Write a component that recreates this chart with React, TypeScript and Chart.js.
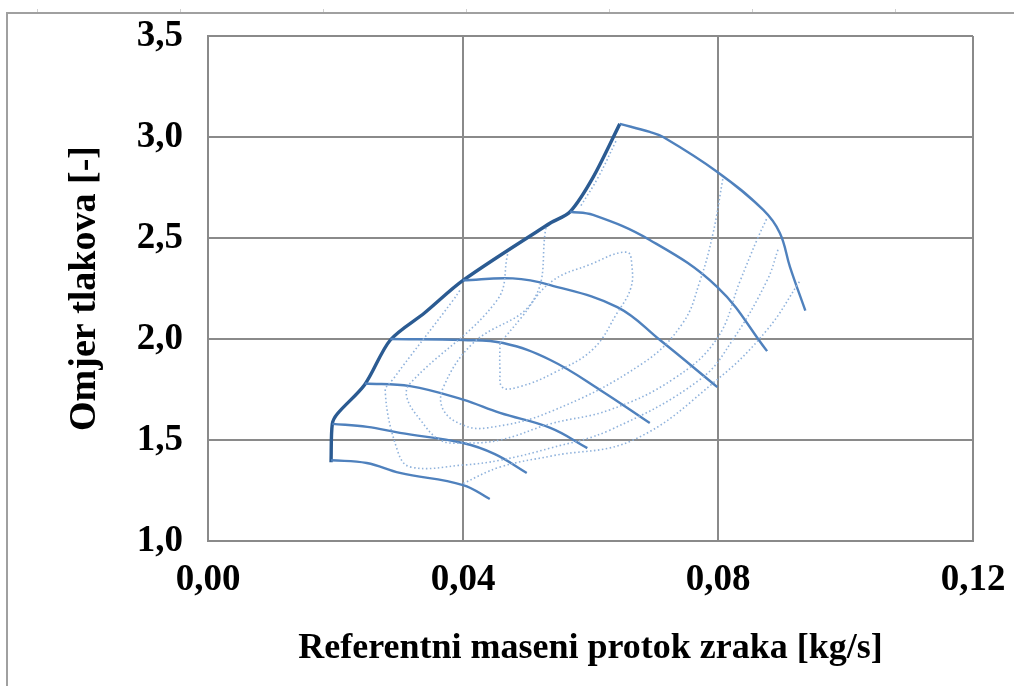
import React, { useEffect, useRef } from "react";
import { Chart, registerables } from "chart.js";

Chart.register(...registerables);

// Axis ticks
const xTicks = [0, 0.04, 0.08, 0.12];
const xTickLabels = ["0,00", "0,04", "0,08", "0,12"];
const yTicks = [1.0, 1.5, 2.0, 2.5, 3.0, 3.5];
const yTickLabels = ["1,0", "1,5", "2,0", "2,5", "3,0", "3,5"];

const xTitle = "Referentni maseni protok zraka [kg/s]";
const yTitle = "Omjer tlakova [-]";

// Surge line [mass flow, pressure ratio]
const surgeLine = [
  [0.0193, 1.39], [0.0195, 1.58], [0.0203, 1.63], [0.0246, 1.775], [0.0286, 1.995],
  [0.0340, 2.13], [0.0400, 2.29], [0.0537, 2.574], [0.0568, 2.63], [0.0604, 2.80], [0.0646, 3.065],
];

// Speed lines
const speed1 = [[0.0193, 1.40], [0.0249, 1.386], [0.0301, 1.337], [0.0400, 1.277], [0.0442, 1.208]];
const speed2 = [[0.0195, 1.58], [0.0250, 1.565], [0.0301, 1.535], [0.0400, 1.485], [0.0450, 1.43], [0.0500, 1.337]];
const speed3 = [[0.0246, 1.78], [0.0317, 1.767], [0.0400, 1.70], [0.0458, 1.634], [0.0537, 1.56], [0.0595, 1.46]];
const speed4 = [[0.0286, 2.0], [0.0400, 1.995], [0.0463, 1.98], [0.0537, 1.896], [0.0615, 1.748], [0.0693, 1.584]];
const speed5 = [[0.0400, 2.29], [0.0478, 2.30], [0.0537, 2.267], [0.0642, 2.158], [0.0709, 1.995], [0.0799, 1.762]];
const speed6 = [[0.0568, 2.63], [0.0604, 2.614], [0.0693, 2.49], [0.0799, 2.257], [0.0877, 1.94]];
const speed7 = [[0.0646, 3.065], [0.0693, 3.025], [0.0714, 3.0], [0.0799, 2.827], [0.0871, 2.639], [0.0897, 2.525], [0.0913, 2.356], [0.0937, 2.14]];

// Efficiency contours
const effIsland = [
  [0.0458, 1.98], [0.0490, 2.10], [0.0537, 2.28], [0.0600, 2.37], [0.0657, 2.43], [0.0665, 2.36],
  [0.0663, 2.25], [0.0642, 2.13], [0.0604, 1.95], [0.0541, 1.83], [0.0490, 1.765], [0.0462, 1.76], [0.0458, 1.85], [0.0458, 1.98],
];
const effContour1 = [
  [0.0530, 2.55], [0.0510, 2.19], [0.0416, 1.98], [0.0369, 1.76], [0.0369, 1.65], [0.0400, 1.574],
  [0.0438, 1.56], [0.0537, 1.64], [0.0682, 1.88], [0.0745, 2.08], [0.0772, 2.29], [0.0792, 2.52], [0.0808, 2.80],
];
const effContour2 = [
  [0.0470, 2.42], [0.0453, 2.19], [0.0317, 1.78], [0.0312, 1.71], [0.0333, 1.60], [0.0364, 1.50],
  [0.0400, 1.485], [0.0458, 1.50], [0.0537, 1.58], [0.0631, 1.65], [0.0729, 1.80], [0.0798, 2.00],
  [0.0835, 2.29], [0.0861, 2.49], [0.0877, 2.60],
];
const effContour3 = [
  [0.0395, 2.24], [0.0384, 2.19], [0.0290, 1.80], [0.0278, 1.74], [0.0297, 1.45], [0.0317, 1.367],
  [0.0400, 1.376], [0.0458, 1.40], [0.0537, 1.46], [0.0631, 1.55], [0.0772, 1.80], [0.0824, 2.0],
  [0.0877, 2.29], [0.0895, 2.45],
];
const effContour4 = [
  [0.0400, 1.285], [0.0458, 1.366], [0.0537, 1.42], [0.0667, 1.50], [0.0798, 1.797], [0.0877, 2.045], [0.0929, 2.29],
];
const effContour5 = [[0.0585, 2.66], [0.0612, 2.80], [0.0640, 2.98]];

const SURGE_COLOR = "#2b5b92";
const SPEED_COLOR = "#4f81bd";
const EFF_COLOR = "#8fb2dc";
const GRID_COLOR = "#8a8a8a";
const FONT = "Liberation Serif";

const toPts = (arr: number[][]) => arr.map(([x, y]) => ({ x, y }));

const framePlugin = {
  id: "frame",
  beforeDraw(chart: any) {
    const ctx = chart.ctx;
    ctx.save();
    ctx.fillStyle = "#ffffff";
    ctx.fillRect(0, 0, chart.width, chart.height);
    ctx.strokeStyle = "#a0a0a0";
    ctx.lineWidth = 2;
    ctx.beginPath();
    ctx.moveTo(7, chart.height);
    ctx.lineTo(7, 13);
    ctx.lineTo(chart.width, 13);
    ctx.stroke();
    ctx.strokeStyle = "#d0d0d0";
    ctx.lineWidth = 1;
    for (let x = 37; x < chart.width; x += 143) {
      ctx.beginPath();
      ctx.moveTo(x + 0.5, 9);
      ctx.lineTo(x + 0.5, 12);
      ctx.stroke();
    }
    ctx.restore();
  },
};

export default function App() {
  const ref = useRef<HTMLCanvasElement | null>(null);
  useEffect(() => {
    if (!ref.current) return;
    const effDs = (d: number[][]) => ({
      data: toPts(d),
      showLine: true,
      borderColor: EFF_COLOR,
      borderWidth: 1.6,
      borderDash: [1.5, 2.5],
      pointRadius: 0,
      tension: 0.4,
      fill: false,
    });
    const speedDs = (d: number[][]) => ({
      data: toPts(d),
      showLine: true,
      borderColor: SPEED_COLOR,
      borderWidth: 2.4,
      pointRadius: 0,
      tension: 0.4,
      fill: false,
    });
    const chart = new Chart(ref.current, {
      type: "scatter",
      data: {
        datasets: [
          effDs(effIsland),
          effDs(effContour1),
          effDs(effContour2),
          effDs(effContour3),
          effDs(effContour4),
          effDs(effContour5),
          speedDs(speed1),
          speedDs(speed2),
          speedDs(speed3),
          speedDs(speed4),
          speedDs(speed5),
          speedDs(speed6),
          speedDs(speed7),
          {
            data: toPts(surgeLine),
            showLine: true,
            borderColor: SURGE_COLOR,
            borderWidth: 3.4,
            pointRadius: 0,
            tension: 0.3,
            fill: false,
          },
        ] as any,
      },
      options: {
        animation: false,
        responsive: false,
        maintainAspectRatio: false,
        layout: { padding: { left: 0, top: 36, right: 41, bottom: 0 } },
        plugins: { legend: { display: false }, tooltip: { enabled: false } },
        scales: {
          x: {
            type: "linear",
            min: 0,
            max: 0.12,
            afterBuildTicks: (s: any) => {
              s.ticks = xTicks.map((v) => ({ value: v }));
            },
            afterFit: (s: any) => {
              s.height = 145;
            },
            grid: { color: GRID_COLOR, lineWidth: 2, drawTicks: true, tickLength: 17, tickColor: "rgba(0,0,0,0)" },
            border: { display: true, color: GRID_COLOR, width: 2 },
            ticks: {
              padding: 0,
              color: "#000",
              font: { family: FONT, weight: "bold", size: 37 },
              callback: (_v: any, i: number) => xTickLabels[i],
            },
            title: {
              display: true,
              text: xTitle,
              color: "#000",
              font: { family: FONT, weight: "bold", size: 36 },
              padding: { top: 0, bottom: 16 },
            },
          },
          y: {
            type: "linear",
            min: 1,
            max: 3.5,
            afterBuildTicks: (s: any) => {
              s.ticks = yTicks.map((v) => ({ value: v }));
            },
            afterFit: (s: any) => {
              s.width = 208;
            },
            grid: { color: GRID_COLOR, lineWidth: 2, drawTicks: true, tickLength: 25, tickColor: "rgba(0,0,0,0)" },
            border: { display: true, color: GRID_COLOR, width: 2 },
            ticks: {
              padding: 0,
              color: "#000",
              font: { family: FONT, weight: "bold", size: 37 },
              callback: (_v: any, i: number) => yTickLabels[i],
            },
            title: {
              display: true,
              text: yTitle,
              color: "#000",
              font: { family: FONT, weight: "bold", size: 38 },
              padding: { top: 62, bottom: 0 },
            },
          },
        },
      } as any,
      plugins: [framePlugin],
    });
    return () => chart.destroy();
  }, []);
  return (
    <div style={{ position: "fixed", left: 0, top: 0, width: 1014, height: 686, background: "#fff" }}>
      <canvas ref={ref} width={1014} height={686} style={{ width: 1014, height: 686, display: "block" }} />
    </div>
  );
}
